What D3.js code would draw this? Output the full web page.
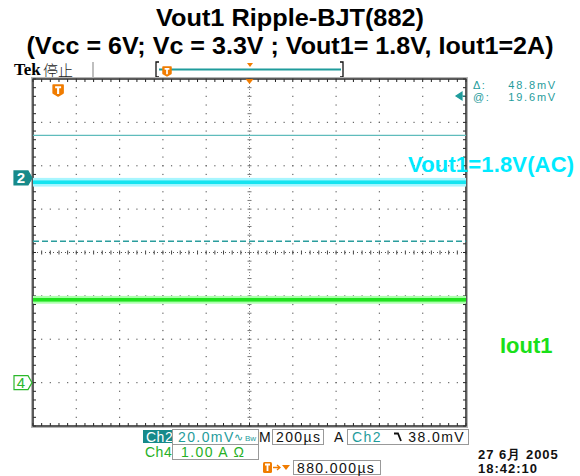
<!DOCTYPE html>
<head>
<meta charset="utf-8">
<script src="https://d3js.org/d3.v7.min.js"></script>
<style>
  body { margin: 0; background: #fff; }
  svg text { font-family: "Liberation Sans", Arial, sans-serif; }
  .title { font-weight: bold; font-size: 24px; fill: #000; }
  .stat { font-size: 14px; letter-spacing: 1.4px; }
</style>
</head>
<body>
<div id="chart"></div>
<script>
// ---- data ----
var titleLines = ["Vout1 Ripple-BJT(882)", "(Vcc = 6V; Vc = 3.3V ; Vout1= 1.8V, Iout1=2A)"];
var xDivs = [-5, -4, -3, -2, -1, 0, 1, 2, 3, 4, 5];      // 200us/div
var yDivs = [-4, -3, -2, -1, 0, 1, 2, 3, 4];
var traceNames = ["Vout1=1.8V(AC)", "Iout1"];
var traceLevels = [1.62, -1.09];       // trace centre, divisions
var traceRipple = [0.20, 0.18];        // visible band p-p, divisions
var refLabels = ["2", "4"];
var refLevels = [1.72, -3.0];          // channel ground markers
var cursorLevels = [2.70, 0.26];       // cursor 1 (solid), cursor 2 (dashed)
var readoutLabels = ["\u0394:", "@:"];
var readoutValues = ["48.8mV", "19.6mV"];
var statusRow1 = ["Ch2", "20.0mV", "M", "200\u00b5s", "A", "Ch2", "38.0mV"];
var statusRow2 = ["Ch4", "1.00 A \u03a9"];
var triggerPos = "880.000\u00b5s";
var dateLines = ["27 6\u6708  2005", "18:42:10"];

var W = 580, H = 476;
var svg = d3.select("#chart").append("svg").attr("width", W).attr("height", H);

var x = d3.scaleLinear().domain([-5, 5]).range([33, 466]);
var y = d3.scaleLinear().domain([-4, 4]).range([426, 79]);

var teal = "#1f9c9c", orange = "#f07c00";

// title
svg.selectAll("text.title").data(titleLines).enter().append("text")
  .attr("class", "title").attr("x", 290).attr("y", function(d, i) { return 26 + i * 28; })
  .attr("text-anchor", "middle")
  .attr("textLength", function(d, i) { return i == 0 ? 268 : 527; })
  .attr("lengthAdjust", "spacingAndGlyphs")
  .text(function(d) { return d; });

// top bar
svg.append("text").attr("x", 14).attr("y", 75).style("font-family", "'Liberation Serif', serif")
  .style("font-weight", "bold").style("font-size", "17px").text("Tek");
svg.append("text").attr("x", 43).attr("y", 76).style("font-family", "'Noto Sans CJK SC'")
  .style("font-size", "15px").style("font-weight", 300).attr("fill", "#222").text("\u505c\u6b62");
svg.append("line").attr("x1", 93).attr("x2", 93).attr("y1", 62).attr("y2", 77)
  .attr("stroke", "#aaa").attr("stroke-width", 1.5);

// record bar
svg.append("path").attr("d", "M159,62 H156 V77 H159").attr("fill", "none").attr("stroke", "#111").attr("stroke-width", 1.3);
svg.append("path").attr("d", "M340,62 H343 V77 H340").attr("fill", "none").attr("stroke", "#111").attr("stroke-width", 1.3);
svg.append("line").attr("x1", 159).attr("x2", 341).attr("y1", 69.5).attr("y2", 69.5)
  .attr("stroke", teal).attr("stroke-width", 1.8);
svg.append("path").attr("d", "M247,63 L253,63 L250,67 Z").attr("fill", orange);

function tMarker(cx, cy, s) {
  var g = svg.append("g").attr("transform", "translate(" + cx + "," + cy + ")");
  g.append("path").attr("d", "M" + (-s) + "," + (-s * 1.1) + " H" + s + " V" + (s * 0.5) +
      " L0," + (s * 1.1) + " L" + (-s) + "," + (s * 0.5) + " Z")
    .attr("fill", orange).attr("stroke", orange).attr("stroke-width", 1.5).attr("stroke-linejoin", "round");
  g.append("path").attr("d", "M" + (-s * 0.6) + "," + (-s * 0.65) + " H" + (s * 0.6) + " M0," + (-s * 0.65) + " V" + (s * 0.7))
    .attr("stroke", "#fff").attr("stroke-width", s * 0.42).attr("fill", "none");
}
tMarker(167, 71.5, 4);

// graticule
var grid = svg.append("g");
var minor = d3.range(-25, 26).map(function(j) { return j / 5; });
var minorY = d3.range(-20, 21).map(function(j) { return j / 5; });

xDivs.filter(function(d) { return d != 0 && Math.abs(d) != 5; }).forEach(function(d) {
  grid.selectAll(null).data(minorY).enter().append("rect")
    .attr("x", x(d) - 0.6).attr("y", function(v) { return y(v) - 0.6; })
    .attr("width", 1.2).attr("height", 1.2).attr("fill", "#666");
});
yDivs.filter(function(d) { return d != 0 && Math.abs(d) != 4; }).forEach(function(d) {
  grid.selectAll(null).data(minor).enter().append("rect")
    .attr("x", function(v) { return x(v) - 0.6; }).attr("y", y(d) - 0.6)
    .attr("width", 1.2).attr("height", 1.2).attr("fill", "#666");
});
// centre lines with ticks
grid.selectAll(null).data(minor).enter().append("line")
  .attr("x1", function(v) { return x(v); }).attr("x2", function(v) { return x(v); })
  .attr("y1", y(0) - 2).attr("y2", y(0) + 2).attr("stroke", "#444").attr("stroke-width", 1);
grid.append("line").attr("x1", x(-5)).attr("x2", x(5)).attr("y1", y(0)).attr("y2", y(0))
  .attr("stroke", "#555").attr("stroke-width", 1).attr("stroke-dasharray", "1,3");
grid.selectAll(null).data(minorY).enter().append("line")
  .attr("y1", function(v) { return y(v); }).attr("y2", function(v) { return y(v); })
  .attr("x1", x(0) - 2).attr("x2", x(0) + 2).attr("stroke", "#777").attr("stroke-width", 1);
grid.append("line").attr("y1", y(-4)).attr("y2", y(4)).attr("x1", x(0)).attr("x2", x(0))
  .attr("stroke", "#888").attr("stroke-width", 1).attr("stroke-dasharray", "1,2");
// border ticks
grid.selectAll(null).data(minor).enter().append("path")
  .attr("d", function(v) { return "M" + x(v) + "," + y(4) + " v3 M" + x(v) + "," + y(-4) + " v-3"; })
  .attr("stroke", "#222").attr("stroke-width", 1);
grid.selectAll(null).data(minorY).enter().append("path")
  .attr("d", function(v) { return "M" + x(-5) + "," + y(v) + " h3 M" + x(5) + "," + y(v) + " h-3"; })
  .attr("stroke", "#222").attr("stroke-width", 1);
grid.append("rect").attr("x", x(-5) - 1.5).attr("y", y(4) - 1.5)
  .attr("width", x(5) - x(-5) + 3).attr("height", y(-4) - y(4) + 3)
  .attr("fill", "none").attr("stroke", "#b5b5b5").attr("stroke-width", 1);
grid.append("rect").attr("x", x(-5)).attr("y", y(4))
  .attr("width", x(5) - x(-5)).attr("height", y(-4) - y(4))
  .attr("fill", "none").attr("stroke", "#333").attr("stroke-width", 1.6);

// trigger position marker on top border
svg.append("path").attr("d", "M" + (x(0) - 4) + "," + (y(4)) + " H" + (x(0) + 4) + " L" + x(0) + "," + (y(4) + 5) + " Z").attr("fill", orange);
tMarker(x(-4.42), 90.5, 5);

// cursors
svg.append("line").attr("x1", x(-5)).attr("x2", x(5))
  .attr("y1", y(cursorLevels[0])).attr("y2", y(cursorLevels[0]))
  .attr("stroke", "#5fbcbc").attr("stroke-width", 1.3);
svg.append("line").attr("x1", x(-5)).attr("x2", x(5))
  .attr("y1", y(cursorLevels[1])).attr("y2", y(cursorLevels[1]))
  .attr("stroke", "#2a9d9d").attr("stroke-width", 1.5).attr("stroke-dasharray", "6,3");

// traces
var haloCol = ["#a8f6ff", "#adffad"], coreCol = ["#14e4f0", "#1ee21e"];
traceLevels.forEach(function(lv, i) {
  var top = y(lv + traceRipple[i] / 2), bot = y(lv - traceRipple[i] / 2);
  svg.append("rect").attr("x", x(-5)).attr("width", x(5) - x(-5))
    .attr("y", top).attr("height", bot - top).attr("fill", haloCol[i]);
  svg.append("rect").attr("x", x(-5)).attr("width", x(5) - x(-5))
    .attr("y", y(lv) - 1.8).attr("height", 3.6).attr("fill", coreCol[i]);
});

// channel reference markers
refLevels.forEach(function(lv, i) {
  var cy = y(lv);
  var g = svg.append("g").attr("transform", "translate(14," + cy + ")");
  g.append("path").attr("d", "M0,-7 H14 L18,0 L14,7 H0 Z")
    .attr("fill", i == 0 ? "#178a8a" : "#fff").attr("stroke", i == 0 ? "#178a8a" : "#2cb82c").attr("stroke-width", 1.2);
  g.append("text").attr("x", 7).attr("y", 5.5).attr("text-anchor", "middle")
    .style("font-size", "15px").style("font-weight", i == 0 ? "bold" : "normal")
    .attr("fill", i == 0 ? "#fff" : "#2cb82c").text(refLabels[i]);
});

// trace labels
svg.append("text").attr("x", 408).attr("y", 172).style("font-weight", "bold").style("font-size", "22px")
  .attr("fill", "#00eaff").attr("textLength", 166).text(traceNames[0]);
svg.append("text").attr("x", 500).attr("y", 353).style("font-weight", "bold").style("font-size", "22px")
  .attr("fill", "#19e019").text(traceNames[1]);

// trigger level arrow + readouts
svg.append("path").attr("d", "M456,96 L462,92 V100 Z M461,96 H465").attr("fill", teal).attr("stroke", teal).attr("stroke-width", 1.2);
readoutLabels.forEach(function(l, i) {
  svg.append("text").attr("x", 473).attr("y", 89 + i * 12).attr("class", "stat")
    .style("font-size", "11px").style("letter-spacing", "1.5px").attr("fill", teal).text(l);
  svg.append("text").attr("x", 557).attr("y", 89 + i * 12).attr("class", "stat")
    .style("font-size", "11px").style("letter-spacing", "1.8px").attr("text-anchor", "end").attr("fill", teal).text(readoutValues[i]);
});

// status bar
function box(x0, y0, w, h) {
  svg.append("rect").attr("x", x0).attr("y", y0).attr("width", w).attr("height", h)
    .attr("fill", "none").attr("stroke", "#999").attr("stroke-width", 1);
}
svg.append("rect").attr("x", 143).attr("y", 430).attr("width", 29).attr("height", 13).attr("fill", "#178a8a");
svg.append("text").attr("x", 146).attr("y", 442).attr("class", "stat").attr("fill", "#fff").style("letter-spacing", "0.5px").text(statusRow1[0]);
box(172.5, 429.5, 86, 15);
svg.append("text").attr("x", 178).attr("y", 442).attr("class", "stat").attr("fill", teal).text(statusRow1[1]);
svg.append("text").attr("x", 234).attr("y", 441).style("font-size", "11px").attr("fill", teal).text("\u223f");
svg.append("text").attr("x", 245).attr("y", 441).style("font-size", "8px").attr("fill", teal).text("Bw");
svg.append("text").attr("x", 259).attr("y", 442).attr("class", "stat").attr("fill", "#111").text(statusRow1[2]);
box(272.5, 429.5, 51, 15);
svg.append("text").attr("x", 276).attr("y", 442).attr("class", "stat").attr("fill", "#111").text(statusRow1[3]);
svg.append("text").attr("x", 334).attr("y", 442).attr("class", "stat").attr("fill", "#111").text(statusRow1[4]);
box(347.5, 429.5, 121, 15);
svg.append("text").attr("x", 352).attr("y", 442).attr("class", "stat").attr("fill", teal).text(statusRow1[5]);
svg.append("path").attr("d", "M394,433.5 H398 L401,441").attr("fill", "none").attr("stroke", "#111").attr("stroke-width", 1.8);
svg.append("text").attr("x", 465).attr("y", 442).attr("class", "stat").attr("text-anchor", "end").attr("fill", "#111").text(statusRow1[6]);

svg.append("text").attr("x", 145).attr("y", 457).attr("class", "stat").attr("fill", "#26b026").style("letter-spacing", "0.5px").text(statusRow2[0]);
box(172.5, 444.5, 86, 15);
svg.append("text").attr("x", 181).attr("y", 457).attr("class", "stat").attr("fill", "#26b026").text(statusRow2[1]);

// trigger position row
svg.append("rect").attr("x", 263).attr("y", 462).attr("width", 9).attr("height", 11).attr("rx", 1.5).attr("fill", orange);
svg.append("path").attr("d", "M265,464.5 H270 M267.5,464.5 V471").attr("stroke", "#fff").attr("stroke-width", 1.8);
svg.append("path").attr("d", "M273,467.5 H279 M277,465 L280,467.5 L277,470").attr("fill", "none").attr("stroke", orange).attr("stroke-width", 1.3);
svg.append("path").attr("d", "M282,465 H290 L286,470 Z").attr("fill", orange);
box(293.5, 460.5, 87, 14);
svg.append("text").attr("x", 297).attr("y", 472.5).attr("class", "stat").attr("fill", "#111").text(triggerPos);

dateLines.forEach(function(d, i) {
  svg.append("text").attr("x", 478).attr("y", 458.5 + i * 14.5).attr("class", "stat")
    .style("font-weight", "bold").style("letter-spacing", "1px").style("font-size", "13px").attr("fill", "#111").text(d);
});
</script>
</body>
